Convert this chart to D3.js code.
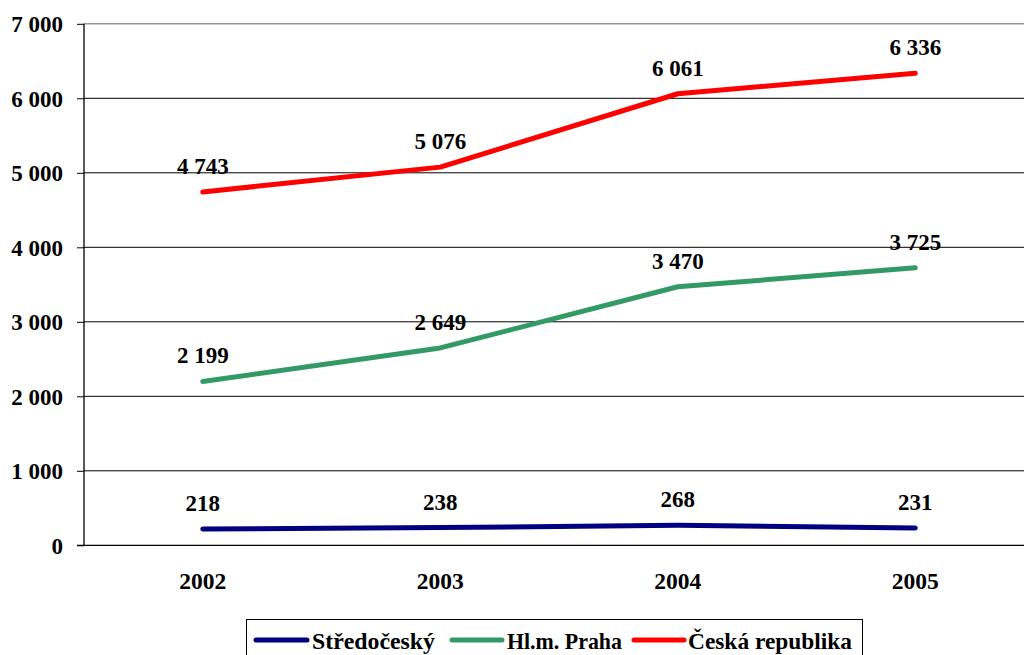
<!DOCTYPE html>
<html>
<head>
<meta charset="utf-8">
<script src="https://cdn.jsdelivr.net/npm/d3@7"></script>
<style>
  html, body { margin: 0; padding: 0; background: #fff; }
  svg { display: block; }
  text { font-family: "Liberation Serif", "Times New Roman", serif; font-weight: bold; fill: #000; }
</style>
</head>
<body>
<svg id="chart" width="1024" height="655"></svg>
<script>
// Years on the category axis
const years = ["2002", "2003", "2004", "2005"];

// Series values
const stredocesky = [218, 238, 268, 231];
const praha = [2199, 2649, 3470, 3725];
const ceskaRepublika = [4743, 5076, 6061, 6336];

// Series names and colours
const seriesNames = ["Středočeský", "Hl.m. Praha", "Česká republika"];
const seriesColors = ["#000080", "#339966", "#FF0000"];

// Value axis ticks
const yTicks = [0, 1000, 2000, 3000, 4000, 5000, 6000, 7000];

const series = [stredocesky, praha, ceskaRepublika].map((values, i) => ({
  name: seriesNames[i],
  color: seriesColors[i],
  values: values.map((v, j) => ({ year: years[j], value: v }))
}));

const svg = d3.select("#chart");
const plot = { left: 84, right: 1034, top: 23.8, bottom: 545.3 };
const FONT = "Liberation Serif, Times New Roman, serif";

const x = d3.scaleBand().domain(years).range([plot.left, plot.right]);
const y = d3.scaleLinear().domain([0, 7000]).range([plot.bottom, plot.top]);

const fmt = v => d3.format(",")(v).replace(/,/g, " ");

// Horizontal gridlines
svg.append("g")
  .selectAll("line")
  .data(yTicks.filter(t => t > 0))
  .join("line")
  .attr("x1", plot.left).attr("x2", 1024)
  .attr("y1", d => y(d)).attr("y2", d => y(d))
  .attr("stroke", d => d === 7000 ? "#999" : "#000")
  .attr("stroke-width", d => d === 7000 ? 1.5 : 1);

// Value axis
const yAxis = svg.append("g")
  .attr("transform", `translate(${plot.left},0)`)
  .call(d3.axisLeft(y).tickValues(yTicks).tickFormat(fmt).tickSize(7).tickPadding(14));
yAxis.attr("font-family", FONT).attr("font-size", 23);
yAxis.select(".domain").attr("stroke", "#000").attr("stroke-width", 1.3).attr("d", `M0,${plot.top}V${plot.bottom}`);
yAxis.selectAll(".tick line").attr("stroke", "#000");
yAxis.selectAll(".tick text")
  .attr("font-weight", "bold")
  .attr("fill", "#000")
  .attr("dy", "0.34em");

// Category axis
const xAxis = svg.append("g")
  .attr("transform", `translate(0,${plot.bottom})`)
  .call(d3.axisBottom(x).tickSize(0).tickPadding(27));
xAxis.attr("font-family", FONT).attr("font-size", 23.5);
xAxis.select(".domain").attr("stroke", "#000").attr("stroke-width", 1.3).attr("d", `M${plot.left - 7},0H1024`);
xAxis.selectAll(".tick text")
  .attr("font-weight", "bold")
  .attr("fill", "#000");

// Lines
const line = d3.line()
  .x(d => x(d.year) + x.bandwidth() / 2)
  .y(d => y(d.value));

svg.append("g")
  .selectAll("path")
  .data(series)
  .join("path")
  .attr("d", d => line(d.values))
  .attr("fill", "none")
  .attr("stroke", d => d.color)
  .attr("stroke-width", 5)
  .attr("stroke-linecap", "round")
  .attr("stroke-linejoin", "round");

// Value labels above points
svg.append("g")
  .selectAll("g")
  .data(series)
  .join("g")
  .selectAll("text")
  .data(d => d.values)
  .join("text")
  .attr("x", d => x(d.year) + x.bandwidth() / 2)
  .attr("y", d => y(d.value) - 18)
  .attr("text-anchor", "middle")
  .attr("font-size", 23)
  .text(d => fmt(d.value));

// Legend
const legend = svg.append("g");
legend.append("rect")
  .attr("x", 246.5).attr("y", 619.5)
  .attr("width", 616).attr("height", 50)
  .attr("fill", "#fff").attr("stroke", "#000").attr("stroke-width", 1);

const legendItems = [
  { lx: 256, lw: 51, tx: 312, tw: 123 },
  { lx: 452, lw: 50, tx: 507, tw: 115 },
  { lx: 634, lw: 50, tx: 688, tw: 164 }
];
const legendY = 640;
legend.selectAll("g")
  .data(series)
  .join("g")
  .each(function (d, i) {
    const g = d3.select(this);
    const it = legendItems[i];
    g.append("line")
      .attr("x1", it.lx).attr("x2", it.lx + it.lw)
      .attr("y1", legendY).attr("y2", legendY)
      .attr("stroke", d.color).attr("stroke-width", 5)
      .attr("stroke-linecap", "round");
    g.append("text")
      .attr("x", it.tx).attr("y", 648.5)
      .attr("font-size", 24)
      .attr("textLength", it.tw)
      .attr("lengthAdjust", "spacingAndGlyphs")
      .text(d.name);
  });
</script>
</body>
</html>
